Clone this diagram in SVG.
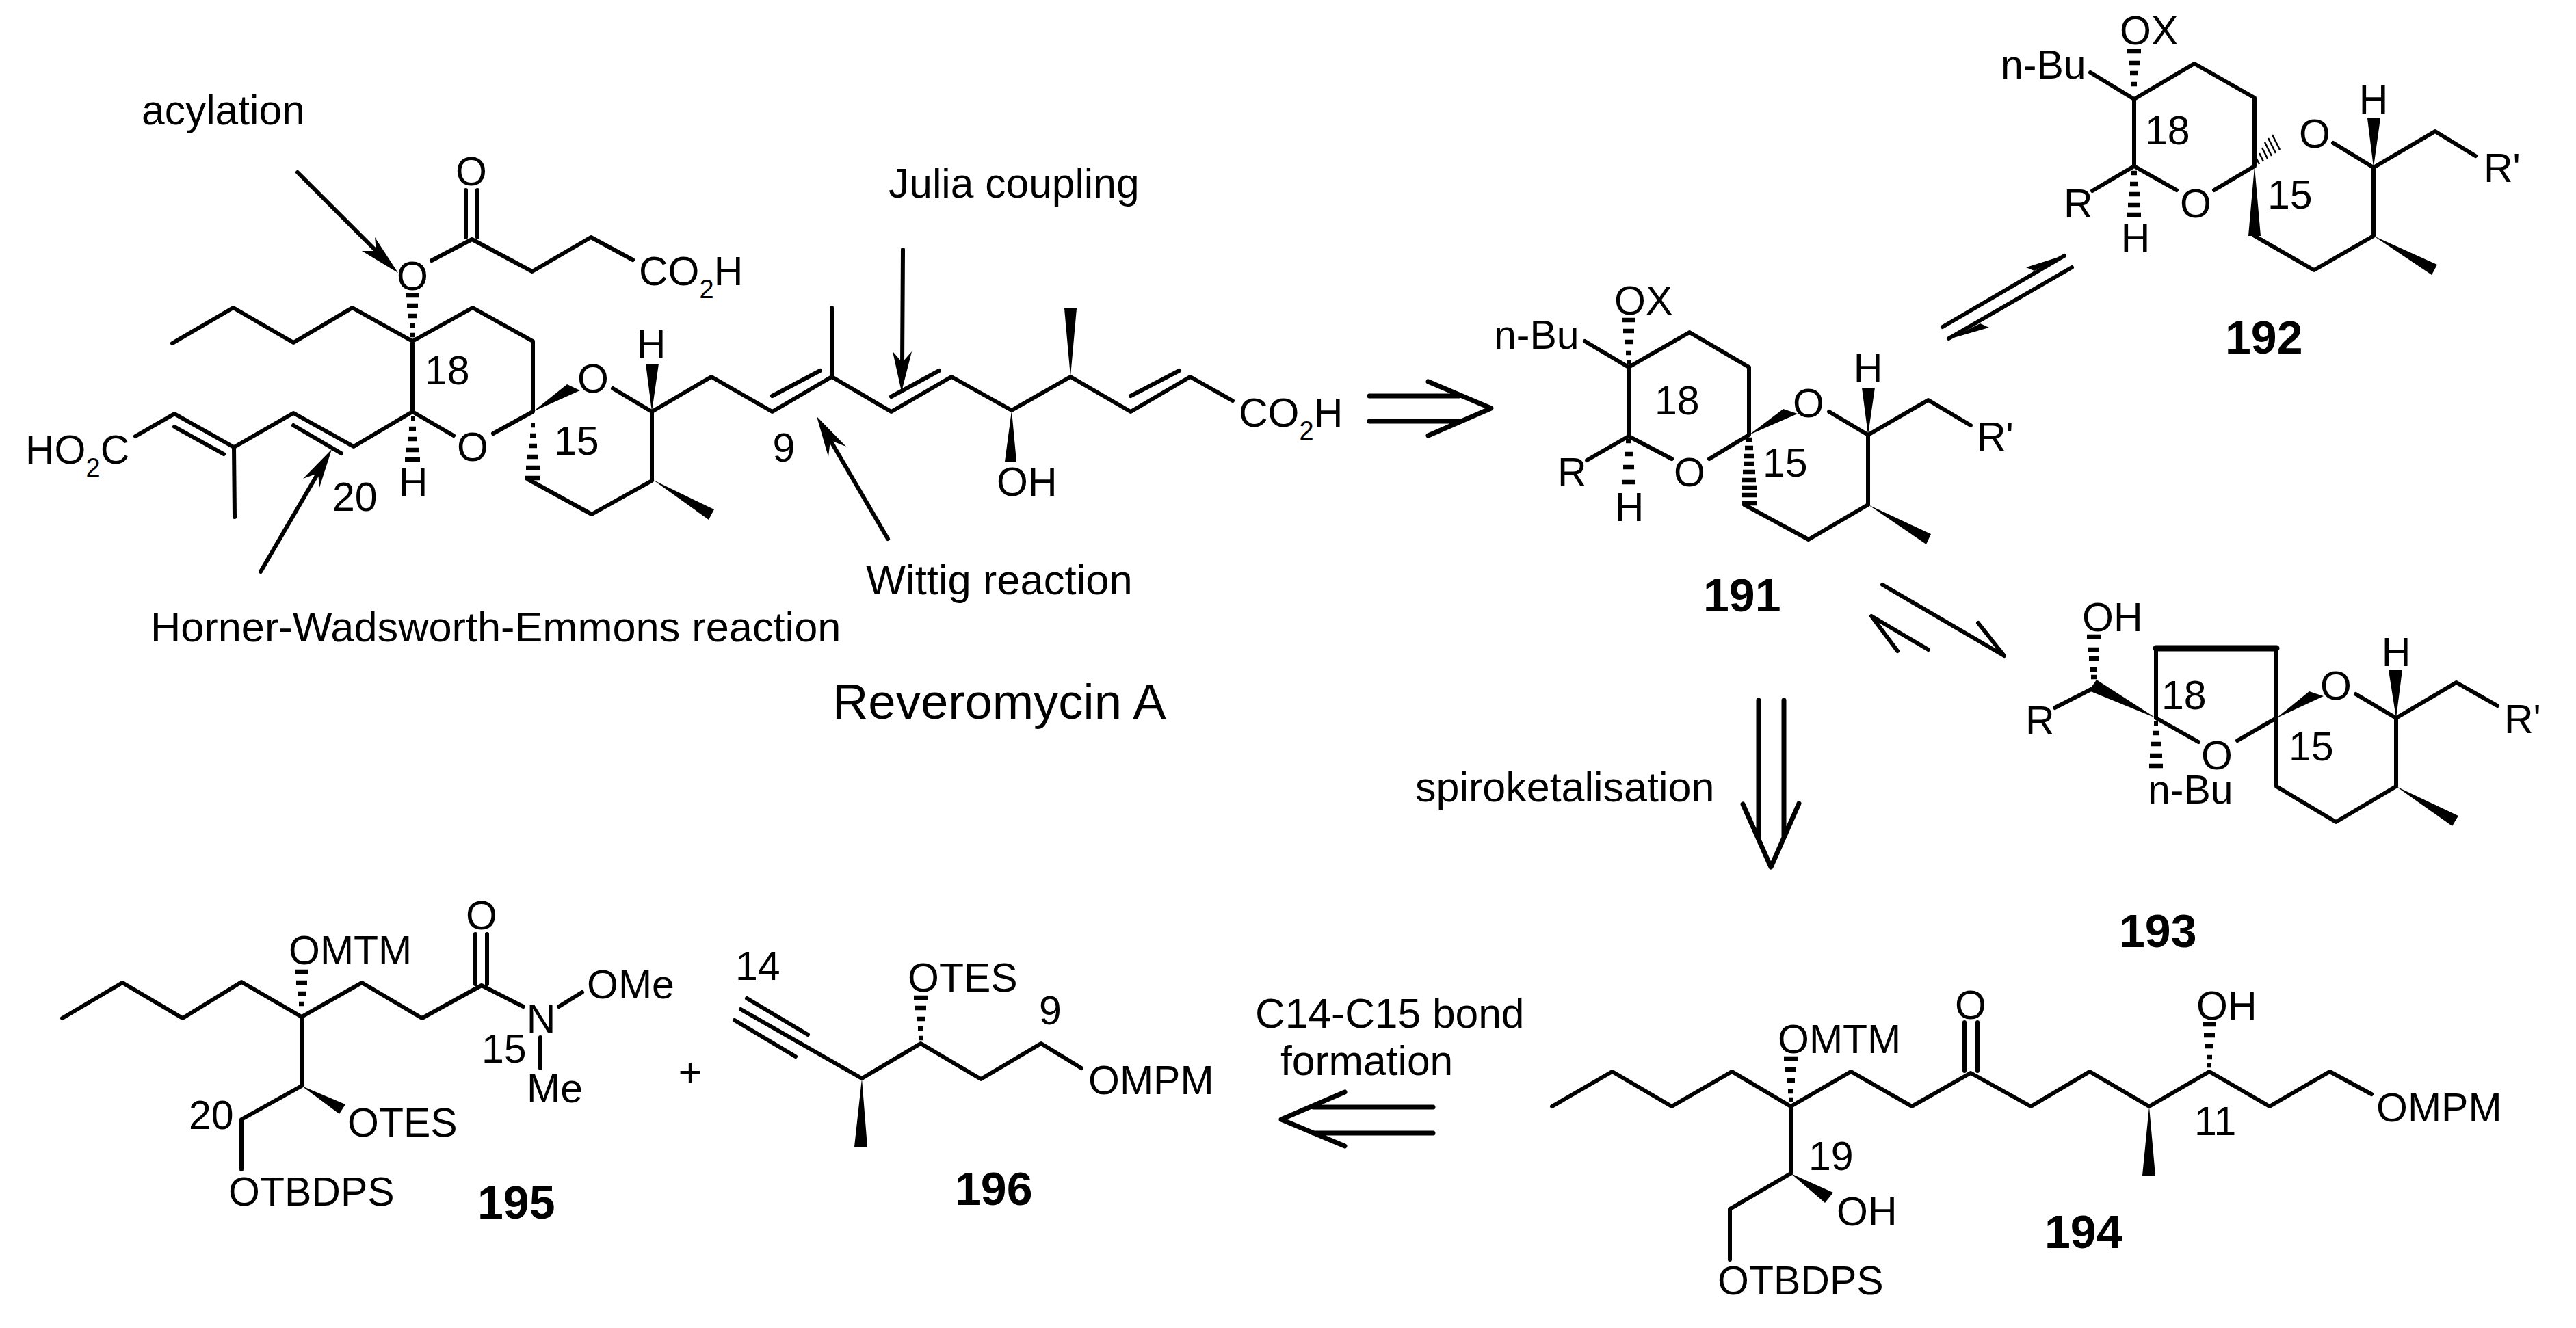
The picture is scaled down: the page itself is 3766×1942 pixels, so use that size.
<svg xmlns="http://www.w3.org/2000/svg" width="3766" height="1942" viewBox="0 0 3766 1942">
<style>
.b{fill:none;stroke:#000;stroke-width:6;stroke-linecap:round;stroke-linejoin:round}
.a{fill:none;stroke:#000;stroke-width:7;stroke-linecap:round;stroke-linejoin:round}
.h{fill:none;stroke:#000;stroke-width:6.5;stroke-linecap:butt}
.f{fill:#000;stroke:none}
text{font-family:"Liberation Sans",Arial,sans-serif;font-size:59px;fill:#000}
.l{font-size:60.5px}
.m{text-anchor:middle}
.n{font-weight:bold;font-size:68px}
.s{font-size:38px}
</style>
<rect width="3766" height="1942" fill="#fff"/>

<g id="reveromycin-a">
<path class="b" d="M252 502L341 450L429 501L515 450L603 499L691 450L779 499L779 602L721 634M663 637L603 602L603 499M603 602L517 653L429 604L342 654L255 605L198 638M429 622L499 663M255 624L327 664M342 654L343 756"/>
<path class="b" d="M631 381L690 350L778 397L864 347L925 380M681 278L681 347M698 278L698 347"/>
<path class="b" d="M896 568L953 602L953 703L865 752L772 701M953 602L1040 551L1129 602L1216 551L1303 602L1391 551L1479 600L1565 551L1653 602L1740 551L1802 586M1129 579L1199 542M1303 580L1373 542M1653 579L1724 542M1216 551L1216 450"/>
<path class="h" d="M593 432h20M595 447h16M597 462h12M599 476h8M600 490h6"/>
<path class="h" d="M601 612h5M598 627h10M596 642h14M594 658h18M592 672h22"/>
<path class="h" d="M776 622h6M775 637h8M773 652h12M771 668h16M769 684h20M768 699h22"/>
<polygon class="f" points="779,602 829,562 848,571"/>
<polygon class="f" points="953,602 944,532 963,532"/>
<polygon class="f" points="955,702 1044,745 1036,760"/>
<polygon class="f" points="1565,551 1556,451 1574,451"/>
<polygon class="f" points="1479,600 1469,675 1486,675"/>
<text class="m" x="603" y="424">O</text>
<text class="m" x="689" y="271">O</text>
<text class="m" x="691" y="674">O</text>
<text class="m" x="867" y="574">O</text>
<text class="m" x="604" y="726">H</text>
<text class="m" x="952" y="524">H</text>
<text x="934" y="417">CO<tspan class="s" dy="19">2</tspan><tspan dy="-19">H</tspan></text>
<text x="1811" y="624">CO<tspan class="s" dy="19">2</tspan><tspan dy="-19">H</tspan></text>
<text x="37" y="678">HO<tspan class="s" dy="19">2</tspan><tspan dy="-19">C</tspan></text>
<text x="1457" y="725">OH</text>
<text x="486" y="747">20</text>
<text x="621" y="562">18</text>
<text x="810" y="665">15</text>
<text class="m" x="1146" y="675">9</text>
<text class="l" x="207" y="182">acylation</text>
<text x="220" y="938" style="font-size:61.3px">Horner-Wadsworth-Emmons reaction</text>
<text class="l" x="1299" y="289">Julia coupling</text>
<text class="l" x="1266" y="869" style="font-size:61.5px">Wittig reaction</text>
<text x="1217" y="1051" style="font-size:72.5px">Reveromycin A</text>
</g>

<g id="compound-191">
<path class="b" d="M2317 499L2381 537L2470 486L2557 537L2557 636L2499 671M2444 671L2381 638L2381 537M2381 638L2320 673M2550 738L2644 789L2731 738L2731 636L2674 602M2731 636L2819 585L2881 622"/>
<path class="h" d="M2371 468h20M2373 484h16M2375 500h12M2377 516h8M2378 530h6"/>
<path class="h" d="M2377 645h8M2375 664h12M2373 683h16M2371 705h20"/>
<path class="h" d="M2552 643h10M2551 655h12M2550 667h14M2549 678h16M2548 690h18M2547 702h20M2547 713h21M2546 724h22M2546 736h22"/>
<polygon class="f" points="2557,636 2607,598 2628,605"/>
<polygon class="f" points="2731,636 2722,567 2741,567"/>
<polygon class="f" points="2731,738 2823,781 2816,796"/>
<text x="2360" y="460">OX</text>
<text x="2184" y="510">n-Bu</text>
<text x="2277" y="711">R</text>
<text class="m" x="2470" y="711">O</text>
<text class="m" x="2382" y="762">H</text>
<text class="m" x="2644" y="610">O</text>
<text class="m" x="2731" y="559">H</text>
<text x="2890" y="659">R'</text>
<text x="2419" y="606">18</text>
<text x="2577" y="697">15</text>
<text class="n" x="2490" y="894">191</text>
</g>

<g id="compound-192">
<path class="b" d="M3056 106L3120 145L3208 93L3296 143L3296 243L3237 278M3182 278L3120 243L3120 145M3120 243L3059 279M3296 345L3383 395L3470 345L3470 245L3411 209M3470 245L3560 192L3619 228"/>
<path class="h" d="M3110 75h20M3112 92h16M3114 107h12M3116 123h8"/>
<path class="h" d="M3116 253h8M3114 269h12M3112 284h16M3111 300h18M3110 314h20"/>
<path style="fill:none;stroke:#000;stroke-width:2.5" d="M3303 240L3299 232M3309 236L3303 224M3315 232L3307 216M3321 228L3311 208M3327 224L3316 202M3333 219L3322 197"/>
<polygon class="f" points="3296,243 3287,345 3305,345"/>
<polygon class="f" points="3470,245 3461,173 3480,173"/>
<polygon class="f" points="3470,345 3563,387 3555,402"/>
<text x="3099" y="65">OX</text>
<text x="2925" y="115">n-Bu</text>
<text x="3017" y="318">R</text>
<text class="m" x="3210" y="318">O</text>
<text class="m" x="3122" y="369">H</text>
<text class="m" x="3384" y="216">O</text>
<text class="m" x="3470" y="166">H</text>
<text x="3631" y="266">R'</text>
<text x="3136" y="211">18</text>
<text x="3315" y="305">15</text>
<text class="n" x="3253" y="517">192</text>
</g>

<g id="compound-193">
<path class="b" d="M3004 1035L3061 1006M3152 1050L3214 1085M3271 1083L3328 1050L3328 948M3152 1050L3152 948M3444 1015L3503 1050L3503 1150L3415 1202L3328 1150L3328 1050M3503 1050L3591 998L3651 1032"/>
<path d="M3152 948L3328 948" style="fill:none;stroke:#000;stroke-width:9;stroke-linecap:round"/>
<path class="h" d="M3051 931h20M3053 950h16M3054 963h14M3056 979h10M3057 990h8"/>
<path class="h" d="M3149 1058h6M3147 1072h10M3145 1088h14M3143 1105h18M3142 1120h20"/>
<polygon class="f" points="3152,1050 3065,994 3054,1010"/>
<polygon class="f" points="3328,1050 3376,1011 3397,1018"/>
<polygon class="f" points="3503,1050 3492,980 3512,980"/>
<polygon class="f" points="3503,1150 3594,1193 3585,1208"/>
<text x="3044" y="923">OH</text>
<text x="2961" y="1074">R</text>
<text class="m" x="3241" y="1125">O</text>
<text x="3140" y="1175">n-Bu</text>
<text class="m" x="3415" y="1023">O</text>
<text class="m" x="3503" y="974">H</text>
<text x="3661" y="1072">R'</text>
<text x="3160" y="1037">18</text>
<text x="3346" y="1112">15</text>
<text class="n" x="3098" y="1385">193</text>
</g>

<g id="compound-194">
<path class="b" d="M2269 1618L2357 1567L2444 1618L2532 1567L2618 1618L2706 1567L2795 1618L2881 1569L2969 1618L3055 1567L3142 1618L3230 1567L3318 1618L3406 1567L3467 1600M2872 1495L2872 1566M2891 1495L2891 1566M2618 1618L2618 1716L2529 1768L2529 1842"/>
<path class="h" d="M2608 1548h20M2610 1564h16M2612 1580h12M2614 1596h8M2615 1608h6"/>
<path class="h" d="M3220 1498h20M3222 1514h16M3224 1530h12M3226 1546h8M3227 1558h6"/>
<polygon class="f" points="2618,1716 2680,1744 2668,1759"/>
<polygon class="f" points="3142,1618 3132,1719 3151,1719"/>
<text class="m" x="2881" y="1490">O</text>
<text x="2599" y="1540">OMTM</text>
<text x="3211" y="1491">OH</text>
<text x="3474" y="1640">OMPM</text>
<text x="3208" y="1660">11</text>
<text x="2644" y="1711">19</text>
<text x="2685" y="1792">OH</text>
<text x="2511" y="1893">OTBDPS</text>
<text class="n" x="2989" y="1825">194</text>
</g>

<g id="compound-195">
<path class="b" d="M91 1489L179 1437L267 1489L353 1436L441 1487L529 1437L617 1489L704 1441L765 1472M695 1366L695 1439M712 1366L712 1439M817 1472L851 1451M790 1517L790 1562M441 1487L441 1588L353 1637L353 1710"/>
<path class="h" d="M431 1421h20M433 1437h16M435 1453h12M437 1468h8"/>
<polygon class="f" points="441,1588 505,1615 496,1629"/>
<text class="m" x="704" y="1359">O</text>
<text x="422" y="1410">OMTM</text>
<text x="858" y="1460">OMe</text>
<text class="m" x="791" y="1510">N</text>
<text x="704" y="1554">15</text>
<text x="770" y="1612">Me</text>
<text x="276" y="1651">20</text>
<text x="508" y="1662">OTES</text>
<text x="334" y="1763">OTBDPS</text>
<text class="n" x="698" y="1782">195</text>
</g>

<text id="plus" class="m" x="1009" y="1588">+</text>

<g id="compound-196">
<path class="b" d="M1083 1476L1260 1577L1346 1526L1434 1578L1522 1526L1581 1562M1092 1460L1181 1513M1074 1492L1163 1545"/>
<path class="h" d="M1336 1459h20M1338 1474h16M1340 1490h12M1342 1504h8M1343 1518h6"/>
<polygon class="f" points="1260,1577 1249,1677 1268,1677"/>
<text x="1075" y="1433">14</text>
<text x="1327" y="1450">OTES</text>
<text x="1519" y="1498">9</text>
<text x="1591" y="1600">OMPM</text>
<text class="n" x="1396" y="1762">196</text>
</g>

<g id="connectors">
<path class="b" d="M435 252L555 372"/>
<polygon class="f" points="582,399 548,347 550,367 529,367"/>
<path class="b" d="M381 836L465 692"/>
<polygon class="f" points="485,657 443,700 465,692 467,713"/>
<path class="b" d="M1320 365L1319 535"/>
<polygon class="f" points="1318,573 1305,514 1319,530 1333,514"/>
<path class="b" d="M1298 788L1214 644"/>
<polygon class="f" points="1194,609 1211,668 1214,644 1237,653"/>
<path class="a" d="M2002 579L2133 579M2002 616L2133 616M2088 558L2180 597L2088 637"/>
<path class="b" d="M2840 478L3018 374"/>
<polygon class="f" points="3019,373 2962,391 2974,396"/>
<path class="b" d="M3029 391L2849 495"/>
<polygon class="f" points="2849,496 2908,479 2895,473"/>
<path class="b" d="M2752 855L2930 959L2892 911M2819 950L2736 901L2774 952"/>
<path class="a" d="M2571 1024L2571 1223M2608 1024L2608 1223M2548 1176L2589 1268L2630 1175"/>
<path class="a" d="M1920 1619L2095 1619M1920 1657L2095 1657M1966 1597L1873 1637L1966 1676"/>
<text class="l" x="2069" y="1172" style="font-size:61px">spiroketalisation</text>
<text class="l" x="1835" y="1503">C14-C15 bond</text>
<text class="l" x="1872" y="1572">formation</text>
</g>
</svg>
